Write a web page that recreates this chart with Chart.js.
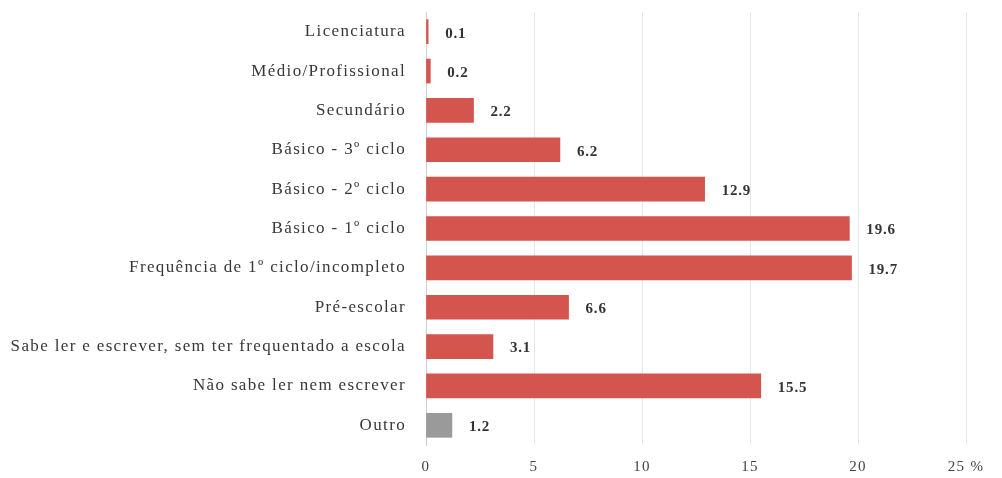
<!DOCTYPE html>
<html><head><meta charset="utf-8">
<script src="https://cdn.jsdelivr.net/npm/chart.js@4/dist/chart.umd.min.js"></script>
<style>html,body{margin:0;padding:0;background:#fff}#w{width:1002px;height:478px}</style>
</head><body><div id="w"><canvas id="c"></canvas></div>
<script>
const categories = ["Licenciatura","Médio/Profissional","Secundário","Básico - 3º ciclo","Básico - 2º ciclo","Básico - 1º ciclo","Frequência de 1º ciclo/incompleto","Pré-escolar","Sabe ler e escrever, sem ter frequentado a escola","Não sabe ler nem escrever","Outro"];
const values = [0.1,0.2,2.2,6.2,12.9,19.6,19.7,6.6,3.1,15.5,1.2];
const valueLabels = ["0.1","0.2","2.2","6.2","12.9","19.6","19.7","6.6","3.1","15.5","1.2"];
const xTicks = [0,5,10,15,20,25];
const xTickLabels = ["0","5","10","15","20","25 %"];
const barColors = ["#d4554e","#d4554e","#d4554e","#d4554e","#d4554e","#d4554e","#d4554e","#d4554e","#d4554e","#d4554e","#9a9a9a"];

const FONT = "'Liberation Serif', 'DejaVu Serif', serif";
const LS = '1.35px';

const spacingPlugin = {
  id: 'spacing',
  beforeUpdate(chart){ chart.ctx.letterSpacing = LS; },
  beforeLayout(chart){ chart.ctx.letterSpacing = LS; },
  beforeDraw(chart){ chart.ctx.letterSpacing = LS; }
};

const labelPlugin = {
  id: 'valLabels',
  afterDatasetsDraw(chart){
    const ctx = chart.ctx;
    const meta = chart.getDatasetMeta(0);
    ctx.save();
    ctx.letterSpacing = '0.8px';
    ctx.font = "bold 15px " + FONT;
    ctx.fillStyle = "#333";
    ctx.textAlign = "left";
    ctx.textBaseline = "middle";
    meta.data.forEach((el,i)=>{
      ctx.fillText(valueLabels[i], el.x + 17, el.y + 2);
    });
    ctx.restore();
  }
};

new Chart(document.getElementById('c'), {
  type: 'bar',
  data: { labels: categories, datasets: [{ data: values, backgroundColor: barColors, barThickness: 24 }] },
  options: {
    indexAxis: 'y',
    responsive: true,
    maintainAspectRatio: false,
    animation: false,
    layout: { padding: { left: 0, right: 36, top: 12, bottom: 0 } },
    plugins: { legend: { display: false }, tooltip: { enabled: false } },
    scales: {
      x: {
        min: 0, max: 25,
        afterBuildTicks(s){ s.ticks = xTicks.map(v=>({value:v})); },
        afterFit(s){ s.height = 33; },
        grid: { color: "#e6e6e6", drawTicks: false },
        border: { display: false },
        ticks: { padding: 13, color: "#444", font: { family: FONT, size: 15 },
          callback(v){ const i = xTicks.indexOf(v); return i>=0 ? xTickLabels[i] : ""; } }
      },
      y: {
        afterFit(s){ s.width = 426; s.paddingTop = 0; s.paddingBottom = 0; },
        grid: { display: false, drawTicks: false },
        border: { display: true, color: "#d0d0d0", width: 1 },
        ticks: { padding: 20, color: "#383838", font: { family: FONT, size: 17 } }
      }
    }
  },
  plugins: [spacingPlugin, labelPlugin]
});
</script>
</body></html>
